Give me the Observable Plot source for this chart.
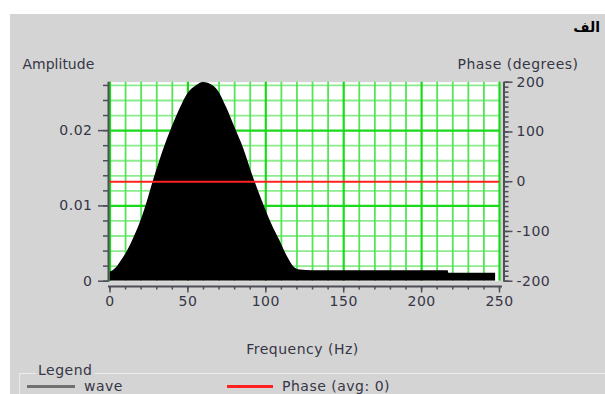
<!DOCTYPE html>
<html><head><meta charset="utf-8">
<script src="https://cdn.jsdelivr.net/npm/d3@7"></script>
<script src="https://cdn.jsdelivr.net/npm/@observablehq/plot@0.6"></script>
<style>
body{margin:0;background:#fff;width:605px;height:394px;overflow:hidden;position:relative;font-family:"DejaVu Sans",sans-serif;color:#363646;}
#panel{position:absolute;left:10px;top:14px;width:595px;height:380px;background:#d4d4d4;}
#title{position:absolute;right:5px;top:19px;font-size:14px;font-weight:bold;color:#000;}
#chart{position:absolute;left:0;top:40px;}
#legbox{position:absolute;left:19px;top:373px;width:600px;height:40px;border-top:1px solid #ececec;border-left:1px solid #ececec;}
#legtitle{position:absolute;left:36px;top:362px;padding:0 2px;background:#d4d4d4;font-size:14px;letter-spacing:0.5px;line-height:16px;}
.item{position:absolute;top:379px;font-size:14px;letter-spacing:0.5px;line-height:15px;display:flex;align-items:center;}
.swatch{display:inline-block;height:3px;margin-right:9px;}
svg text{letter-spacing:0.5px;}
svg text.amp{letter-spacing:0;}
</style></head><body>
<div id="panel"></div>
<div id="title" dir="rtl"></div>
<div id="chart"></div>
<div id="legbox"></div>
<div id="legtitle"></div>
<div id="legend"></div>
<script>
const titleText = "الف";
const ampLabel = "Amplitude";
const phaseLabel = "Phase (degrees)";
const freqLabel = "Frequency (Hz)";
const legendTitle = "Legend";
const seriesNames = ["wave", "Phase (avg: 0)"];
const seriesColors = ["#707070", "#ff2020"];

// wave spectrum (Hz, amplitude)
const freq = [0, 2, 5, 8, 11, 15, 20, 24, 28, 32, 36, 40, 45, 50, 55, 60, 65, 69, 75, 80, 86, 92, 99, 104, 109, 114, 118, 122, 130, 217, 217.5, 247.5];
const amp  = [0.0012, 0.0014, 0.0020, 0.0029, 0.0039, 0.0056, 0.0081, 0.0106, 0.0134, 0.0160, 0.0184, 0.0205, 0.0229, 0.0249, 0.0259, 0.0264, 0.0261, 0.0254, 0.0230, 0.0205, 0.0175, 0.0138, 0.0100, 0.0075, 0.0054, 0.0032, 0.0019, 0.0015, 0.0014, 0.0014, 0.00105, 0.00105];
const phaseAvg = [0];

const freqTicks = [0, 50, 100, 150, 200, 250];
const freqMinor = [0,10,20,30,40,50,60,70,80,90,100,110,120,130,140,150,160,170,180,190,200,210,220,230,240,250];
const ampTicks = [0, 0.01, 0.02];
const ampMinor = [0,0.002,0.004,0.006,0.008,0.01,0.012,0.014,0.016,0.018,0.02,0.022,0.024,0.026];
const phaseTicks = [-200, -100, 0, 100, 200];
const phaseMinor = d3.range(-200, 201, 10);
const ampDomain = [0, 0.02643];
const phaseDomain = [-200, 200];
const freqDomain = [0, 250];

const toAmp = p => ampDomain[0] + (p - phaseDomain[0]) / (phaseDomain[1] - phaseDomain[0]) * (ampDomain[1] - ampDomain[0]);
const toPhase = a => Math.round(phaseDomain[0] + (a - ampDomain[0]) / (ampDomain[1] - ampDomain[0]) * (phaseDomain[1] - phaseDomain[0]));

const wave = freq.map((f, i) => ({f, a: amp[i]}));
const axisColor = "#4e4e58";
const textColor = "#363646";
const majorX = freqMinor.filter(v => v % 50 === 0);
const minorX = freqMinor.filter(v => v % 50 !== 0);
const majorY = ampMinor.filter(v => Math.abs(v/0.01 - Math.round(v/0.01)) < 1e-6);
const minorY = ampMinor.filter(v => !majorY.includes(v));

document.getElementById("title").textContent = titleText;
document.getElementById("legtitle").textContent = legendTitle;
const legend = document.getElementById("legend");
const itemPos = [[27, 48], [227, 46]];
seriesNames.forEach((n, i) => {
  const d = document.createElement("div");
  d.className = "item";
  d.style.left = itemPos[i][0] + "px";
  const s = document.createElement("span");
  s.className = "swatch";
  s.style.width = itemPos[i][1] + "px";
  s.style.background = seriesColors[i];
  d.appendChild(s);
  d.appendChild(document.createTextNode(n));
  legend.appendChild(d);
});

const chart = Plot.plot({
  width: 605,
  height: 322,
  marginLeft: 109.5,
  marginRight: 106,
  marginTop: 41.7,
  marginBottom: 81.3,
  style: {background: "transparent", fontFamily: "DejaVu Sans, sans-serif", fontSize: "14px", color: textColor},
  x: {domain: freqDomain},
  y: {domain: ampDomain},
  marks: [
    Plot.frame({fill: "white", stroke: "none"}),
    Plot.ruleY(minorY, {y: d => d, stroke: "#8cec8c", strokeWidth: 1.8}),
    Plot.ruleX(minorX, {x: d => d, stroke: "#55e455", strokeWidth: 1.8}),
    Plot.ruleY(majorY.filter(v => v > 0), {y: d => d, stroke: "#1ada1a", strokeWidth: 2.2}),
    Plot.ruleX(majorX, {x: d => d, stroke: "#1ada1a", strokeWidth: 2.2}),
    Plot.areaY(wave, {x: "f", y: "a", fill: "black", curve: "monotone-x", clip: true}),
    Plot.ruleY(phaseAvg, {y: d => toAmp(d), stroke: seriesColors[1], strokeWidth: 2}),
    // axis lines
    Plot.ruleX([freqDomain[0]], {x: d => d, dx: -1.5, stroke: axisColor, strokeWidth: 2, insetBottom: -1}),
    Plot.ruleX([freqDomain[1]], {x: d => d, dx: 4.5, stroke: axisColor, strokeWidth: 2, insetBottom: -1}),
    Plot.ruleY([ampDomain[0]], {y: d => d, dy: 5.3, stroke: axisColor, strokeWidth: 2, insetLeft: -1.5, insetRight: -3}),
    // left axis
    Plot.axisY({anchor: "left", ticks: ampMinor, tickSize: 5, dx: -1.5, tickFormat: () => "", stroke: axisColor, strokeWidth: 1.5, label: null}),
    Plot.axisY({anchor: "left", ticks: ampTicks, tickSize: 10, dx: -1.5, tickPadding: 6, tickFormat: d => d === 0 ? "0" : d.toFixed(2), stroke: axisColor, strokeWidth: 1.5, fill: textColor, label: null}),
    // right axis (phase)
    Plot.axisY({anchor: "right", ticks: phaseMinor.map(toAmp), tickSize: 4, dx: 4.5, tickFormat: () => "", stroke: axisColor, strokeWidth: 1.5, label: null}),
    Plot.axisY({anchor: "right", ticks: phaseTicks.map(toAmp), tickSize: 8, dx: 4.5, tickPadding: 4.5, tickFormat: d => String(toPhase(d)), stroke: axisColor, strokeWidth: 1.5, fill: textColor, label: null}),
    // bottom axis
    Plot.axisX({anchor: "bottom", ticks: freqMinor, tickSize: 3.5, dy: 5.3, tickFormat: () => "", stroke: axisColor, strokeWidth: 1.5, label: null}),
    Plot.axisX({anchor: "bottom", ticks: freqTicks, tickSize: 6.5, dy: 5.3, tickPadding: 3, tickFormat: d => String(d), stroke: axisColor, strokeWidth: 1.5, fill: textColor, label: null}),
    // axis titles
    Plot.text([ampLabel], {text: d => d, frameAnchor: "top-left", textAnchor: "start", dx: -87.5, dy: -23.5, fill: textColor, className: "amp"}),
    Plot.text([phaseLabel], {text: d => d, frameAnchor: "top-right", textAnchor: "end", dx: 79, dy: -23.5, fill: textColor}),
    Plot.text([freqLabel], {text: d => d, frameAnchor: "bottom", dx: -2.25, dy: 73, fill: textColor})
  ]
});
chart.querySelectorAll("g.amp text, .amp text").forEach(t => t.style.letterSpacing = "0");
document.getElementById("chart").appendChild(chart);
</script>
</body></html>
